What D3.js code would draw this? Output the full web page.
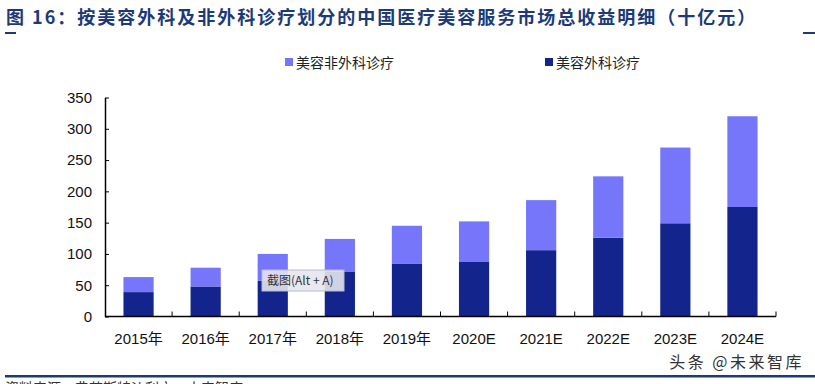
<!DOCTYPE html>
<html>
<head>
<meta charset="utf-8">
<script src="https://cdn.jsdelivr.net/npm/d3@7"></script>
<style>
  body { margin: 0; background: #fff; }
  svg { display: block; font-family: "Liberation Sans", Arial, "Noto Sans CJK SC", sans-serif; }
</style>
</head>
<body>
<script>
const years = ["2015年", "2016年", "2017年", "2018年", "2019年", "2020E", "2021E", "2022E", "2023E", "2024E"];
const surgical = [39, 48, 57, 72, 84, 88, 106, 126, 149, 175];
const nonSurgical = [24, 30, 43, 52, 61, 64, 80, 98, 121, 145];
const yTicks = [0, 50, 100, 150, 200, 250, 300, 350];
const seriesNames = ["美容非外科诊疗", "美容外科诊疗"];

const width = 815, height = 384;
const colors = { light: "#7676fb", dark: "#13258c", navy: "#1c3a78" };

const svg = d3.select("body").append("svg")
  .attr("width", width).attr("height", height);

// title
svg.append("text")
  .attr("x", 6).attr("y", 24)
  .attr("fill", colors.navy)
  .attr("font-size", 18).attr("font-weight", "bold")
  .attr("letter-spacing", 2)
  .attr("font-family", "'Noto Sans CJK SC', sans-serif")
  .text("图 16：按美容外科及非外科诊疗划分的中国医疗美容服务市场总收益明细（十亿元）");
svg.append("rect").attr("x", 5).attr("y", 32).attr("width", 11).attr("height", 2).attr("fill", colors.navy);
svg.append("rect").attr("x", 803).attr("y", 32).attr("width", 12).attr("height", 2).attr("fill", colors.navy);

const x = d3.scaleBand().domain(years).range([105, 776]).paddingInner(0.55).paddingOuter(0.275);
const y = d3.scaleLinear().domain([0, 350]).range([316.5, 97.5]);

const data = years.map((yr, i) => ({ year: yr, surgical: surgical[i], nonSurgical: nonSurgical[i] }));
const stack = d3.stack().keys(["surgical", "nonSurgical"])(data);
const fills = [colors.dark, colors.light];

const bars = svg.append("g");
stack.forEach((layer, li) => {
  bars.selectAll(null).data(layer).enter().append("rect")
    .attr("x", d => x(d.data.year))
    .attr("width", x.bandwidth())
    .attr("y", d => y(d[1]))
    .attr("height", d => y(d[0]) - y(d[1]))
    .attr("fill", fills[li]);
});

// y axis
const yAxis = svg.append("g").attr("transform", "translate(105,0)")
  .call(d3.axisLeft(y).tickValues(yTicks).tickSize(-4).tickPadding(13).tickSizeOuter(0));
yAxis.select(".domain").attr("stroke", "#000").attr("stroke-width", 1.5);
yAxis.selectAll(".tick line").attr("stroke", "#000");
yAxis.selectAll("text").attr("font-size", 15).attr("fill", "#111").attr("font-family", "'Liberation Sans', Arial, sans-serif");

// x axis with ticks between categories
const xAxis = svg.append("g").attr("transform", `translate(0,${y(0)})`);
xAxis.append("line").attr("x1", 105).attr("x2", 776).attr("stroke", "#000").attr("stroke-width", 1.5);
const step = x.step();
xAxis.selectAll(".sep").data(d3.range(1, years.length + 1)).enter().append("line")
  .attr("x1", i => 105 + i * step).attr("x2", i => 105 + i * step)
  .attr("y1", 0).attr("y2", -5).attr("stroke", "#000");
xAxis.selectAll(".lbl").data(years).enter().append("text")
  .attr("x", d => x(d) + x.bandwidth() / 2)
  .attr("y", 27)
  .attr("text-anchor", "middle")
  .attr("font-size", 15).attr("fill", "#111")
  .text(d => d);

// legend
const legend = svg.append("g");
[[285, colors.light], [545, colors.dark]].forEach(([lx, c], i) => {
  legend.append("rect").attr("x", lx).attr("y", 58).attr("width", 8).attr("height", 8).attr("fill", c);
  legend.append("text").attr("x", lx + 11).attr("y", 68)
    .attr("font-size", 14).attr("fill", "#222")
    .attr("font-family", "'Noto Sans CJK SC', sans-serif")
    .text(seriesNames[i]);
});

// screenshot tooltip overlay
const tip = svg.append("g").attr("transform", "translate(262,270)");
tip.append("rect").attr("width", 82).attr("height", 21).attr("fill", "#e4e6ee").attr("fill-opacity", 0.9)
  .attr("stroke", "#b8bcc8");
tip.append("text").attr("x", 5).attr("y", 15).attr("font-size", 12).attr("fill", "#333")
  .attr("font-family", "'Noto Sans CJK SC', sans-serif").text("截图(Alt + A)");

// watermark
svg.append("text").attr("x", 804).attr("y", 368).attr("text-anchor", "end")
  .attr("font-size", 16).attr("letter-spacing", 2.5).attr("fill", "#333")
  .attr("font-family", "'Noto Sans CJK SC', sans-serif")
  .text("头条 @未来智库");

// bottom rule and clipped source line
svg.append("rect").attr("x", 5).attr("y", 375).attr("width", 810).attr("height", 2.5).attr("fill", colors.navy);
svg.append("text").attr("x", 5).attr("y", 393).attr("font-size", 14).attr("fill", "#333")
  .attr("font-family", "'Noto Sans CJK SC', sans-serif")
  .text("资料来源：弗若斯特沙利文，未来智库");
</script>
</body>
</html>
